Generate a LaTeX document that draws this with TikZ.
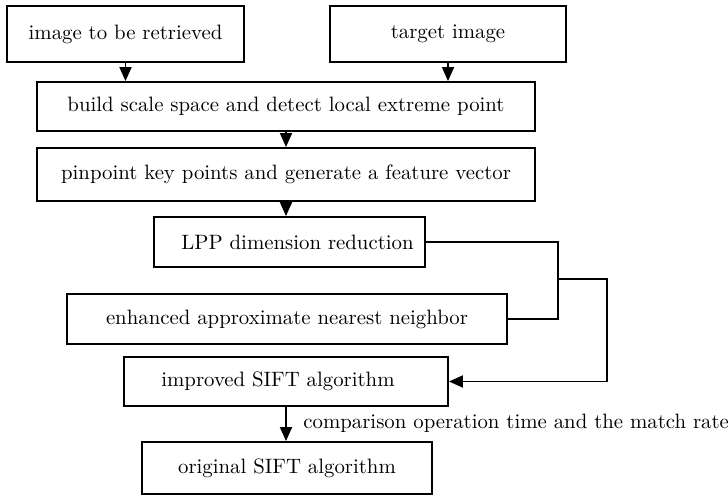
\documentclass[tikz,border=0pt]{standalone}
\usetikzlibrary{arrows.meta}
\begin{document}
\begin{tikzpicture}[x=0.5pt,y=-0.5pt,
  box/.style={draw,line width=0.95pt,inner sep=0pt,align=center,font=\fontsize{10.4}{12}\selectfont},
  link/.style={line width=0.95pt},
  arr/.style={line width=0.95pt,-{Triangle[width=6pt,length=7pt]}},
  lbl/.style={font=\fontsize{10.4}{12}\selectfont,inner sep=0pt,anchor=west}]
\useasboundingbox (0,0) rectangle (728,496);
\node[box,minimum width=118.5pt,minimum height=28pt] (b1) at (125.5,34) {image to be retrieved};
\node[box,minimum width=118pt,minimum height=28pt] (b2) at (448,34) {target image};
\node[box,minimum width=249pt,minimum height=24.5pt] (b3) at (286,106.5) {build scale space and detect local extreme point};
\node[box,minimum width=249pt,minimum height=26.5pt] (b4) at (286,174.5) {pinpoint key points and generate a feature vector};
\node[box,minimum width=135.5pt,minimum height=25pt] (b5) at (289.5,242) {\hspace*{8pt}LPP dimension reduction};
\node[box,minimum width=220pt,minimum height=25pt] (b6) at (287,319) {enhanced approximate nearest neighbor};
\node[box,minimum width=162pt,minimum height=24.5pt] (b7) at (286,381.5) {improved SIFT algorithm\hspace*{8pt}};
\node[box,minimum width=145pt,minimum height=26pt] (b8) at (287,468) {original SIFT algorithm};
\coordinate (m) at (558,279);
\coordinate (r) at (607,279);
\node[lbl] (lab) at (303,423) {comparison operation time and the match rate};
\draw[arr] (b1.south) -- (b1.south |- b3.north);
\draw[arr] (b2.south) -- (b2.south |- b3.north);
\draw[arr] (b3.south) -- (b4.north);
\draw[arr] (b4.south) -- (b4.south |- b5.north);
\draw[link] (b5.east) -| (m) |- (b6.east);
\draw[arr] (m) -- (r) |- (b7.east);
\draw[arr] (b7.south) -- (b7.south |- b8.north);
\end{tikzpicture}
\end{document}
